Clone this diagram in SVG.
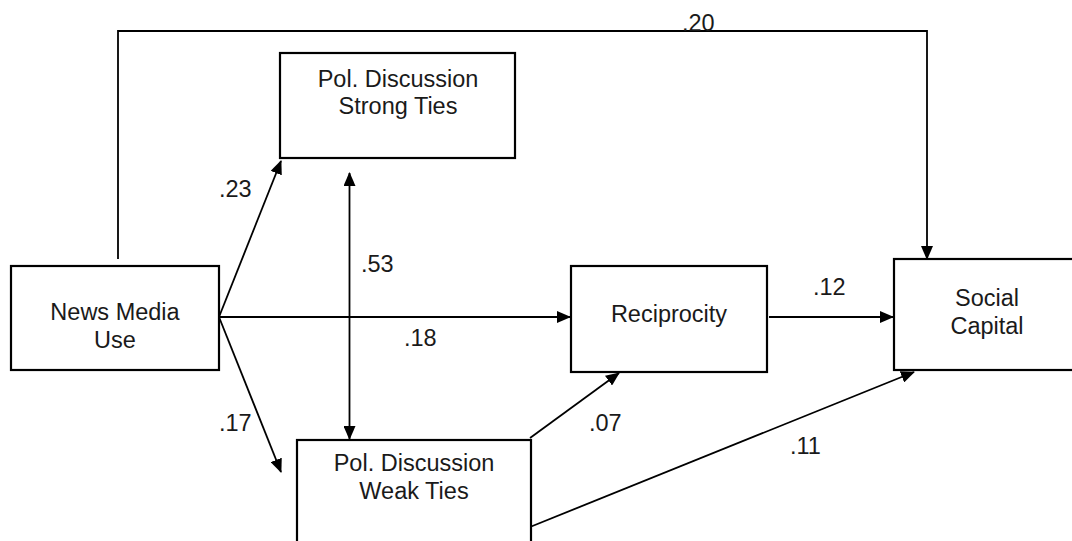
<svg xmlns="http://www.w3.org/2000/svg" width="1072" height="541" viewBox="0 0 1072 541">
<defs>
<marker id="ah" markerUnits="userSpaceOnUse" markerWidth="14" markerHeight="12" refX="13" refY="6" orient="auto-start-reverse" viewBox="0 0 14 12">
<path d="M0,0 L14,6 L0,12 z" fill="#000"/>
</marker>
<style>
.box{fill:#fff;stroke:#000;stroke-width:2.2}
.t{font-family:"Liberation Sans",Arial,sans-serif;font-size:23.5px;fill:#1a1a1a;text-anchor:middle}
.l{font-family:"Liberation Sans",Arial,sans-serif;font-size:23.5px;fill:#1a1a1a}
.c{fill:none;stroke:#000;stroke-width:1.8}
</style>
</defs>
<rect width="1072" height="541" fill="#fff"/>
<g id="connectors">
<path class="c" d="M118,259 V31 H927 V259" marker-end="url(#ah)"/>
<line class="c" x1="219" y1="317" x2="281" y2="161" marker-end="url(#ah)"/>
<line class="c" x1="219" y1="317" x2="281" y2="472" marker-end="url(#ah)"/>
<line class="c" x1="219" y1="317" x2="570" y2="317" marker-end="url(#ah)"/>
<line class="c" x1="349.5" y1="173" x2="349.5" y2="439" marker-start="url(#ah)" marker-end="url(#ah)"/>
<line class="c" x1="769" y1="317" x2="893" y2="317" marker-end="url(#ah)"/>
<line class="c" x1="530" y1="438" x2="619" y2="373" marker-end="url(#ah)"/>
<line class="c" x1="530" y1="527" x2="914" y2="372" marker-end="url(#ah)"/>
<text class="l" x="682" y="31">.20</text>
<text class="l" x="219" y="197">.23</text>
<text class="l" x="361" y="272">.53</text>
<text class="l" x="404" y="346">.18</text>
<text class="l" x="219" y="431">.17</text>
<text class="l" x="813" y="295">.12</text>
<text class="l" x="589" y="431">.07</text>
<text class="l" x="790" y="454">.11</text>
</g>
<g id="news">
<rect class="box" x="11" y="266" width="208" height="104"/>
<text class="t" x="115" y="320">News Media</text>
<text class="t" x="115" y="348">Use</text>
</g>
<g id="strong">
<rect class="box" x="280" y="53" width="235" height="105"/>
<text class="t" x="398" y="87">Pol. Discussion</text>
<text class="t" x="398" y="114">Strong Ties</text>
</g>
<g id="weak">
<rect class="box" x="297" y="440" width="234" height="120"/>
<text class="t" x="414" y="471">Pol. Discussion</text>
<text class="t" x="414" y="499">Weak Ties</text>
</g>
<g id="reciprocity">
<rect class="box" x="571" y="266" width="196" height="106"/>
<text class="t" x="669" y="322">Reciprocity</text>
</g>
<g id="social">
<rect class="box" x="894" y="259" width="200" height="111"/>
<text class="t" x="987" y="306">Social</text>
<text class="t" x="987" y="334">Capital</text>
</g>
</svg>
